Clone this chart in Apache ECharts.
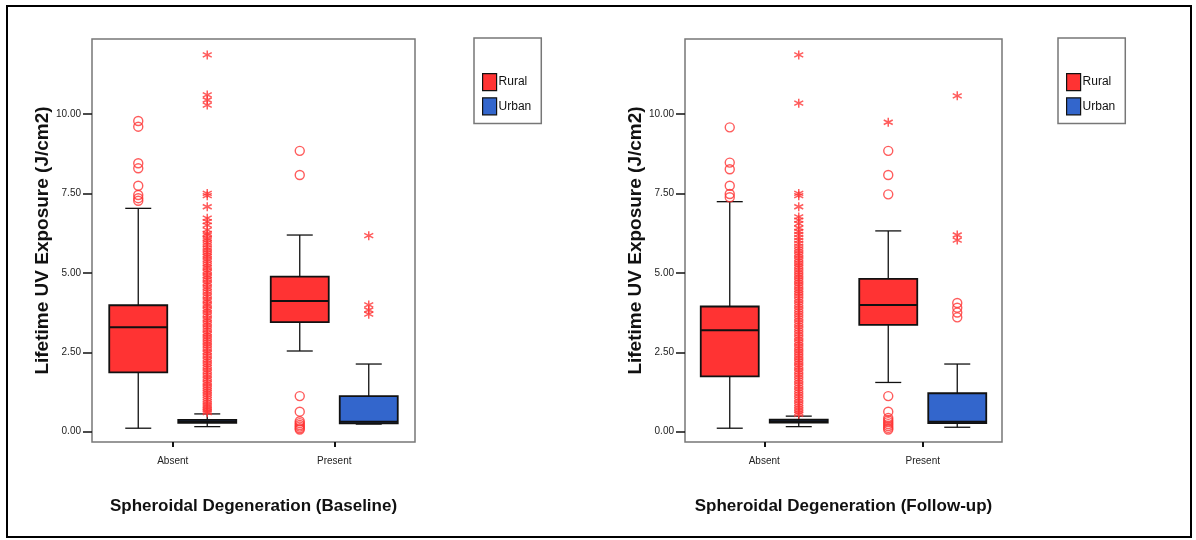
<!DOCTYPE html>
<html><head><meta charset="utf-8">
<script src="https://cdn.jsdelivr.net/npm/echarts@6/dist/echarts.min.js"></script>
<style>html,body{margin:0;padding:0;background:#fff}#c{width:1196px;height:540px}</style>
</head><body><div id="c"></div>
<script>
// ---- data ----
const categories = ['Absent', 'Present'];
const yTickValues = [0, 2.5, 5, 7.5, 10];
const seriesNames = ['Rural', 'Urban'];

// [category, min whisker, Q1, median, Q3, max whisker]
const baseRuralBox = [[0, 0.11, 1.87, 3.29, 3.98, 7.03], [1, 2.54, 3.45, 4.11, 4.88, 6.19]];
const baseUrbanBox = [[0, 0.16, 0.28, 0.32, 0.37, 0.56], [1, 0.24, 0.26, 0.31, 1.12, 2.13]];
const fuRuralBox = [[0, 0.11, 1.74, 3.19, 3.94, 7.24], [1, 1.55, 3.36, 3.99, 4.81, 6.32]];
const fuUrbanBox = [[0, 0.16, 0.29, 0.33, 0.38, 0.49], [1, 0.14, 0.27, 0.31, 1.21, 2.13]];

// outliers (circles = mild, stars = extreme)
const baseRuralCirclesAbsent = [9.78, 9.60, 8.45, 8.29, 7.74, 7.45, 7.35, 7.27];
const baseRuralCirclesPresent = [8.84, 8.08, 1.12, 0.63, 0.33, 0.27, 0.21, 0.16, 0.11, 0.07];
const baseUrbanStarsAbsent = [11.86, 10.60, 10.44, 10.28, 7.50, 7.43, 7.08, 6.72, 6.61, 6.50, 6.35, 6.24, 6.19, 6.09, 6.03, 5.95, 5.88, 5.79,
  5.72, 5.64, 5.57, 5.51, 5.43, 5.37, 5.29, 5.22, 5.16, 5.07, 5.01, 4.92, 4.86, 4.79, 4.70, 4.64, 4.55, 4.49, 4.41, 4.33, 4.26, 4.17, 4.11,
  4.02, 3.96, 3.87, 3.81, 3.73, 3.66, 3.57, 3.51, 3.43, 3.36, 3.28, 3.21, 3.12, 3.06, 2.98, 2.91, 2.83, 2.76, 2.69, 2.61, 2.53, 2.47, 2.39,
  2.31, 2.24, 2.16, 2.09, 2.02, 1.94, 1.87, 1.79, 1.72, 1.65, 1.57, 1.51, 1.43, 1.36, 1.29, 1.22, 1.15, 1.08, 1.01, 0.94, 0.87, 0.81, 0.75,
  0.69, 0.64, 0.60];
const baseUrbanStarsPresent = [6.17, 3.99, 3.83, 3.70];

const fuRuralCirclesAbsent = [9.58, 8.47, 8.26, 7.74, 7.48, 7.38];
const fuRuralCirclesPresent = [8.84, 8.08, 7.47, 1.12, 0.63, 0.43, 0.36, 0.30, 0.24, 0.18, 0.12, 0.07];
const fuRuralStarsPresent = [9.74];
const fuUrbanStarsAbsent = [11.86, 10.34, 7.50, 7.43, 7.08, 6.76, 6.66, 6.55, 6.41, 6.30, 6.21, 6.11, 6.02, 5.93, 5.84,
  5.76, 5.69, 5.61, 5.54, 5.46, 5.39, 5.31, 5.24, 5.17, 5.09, 5.02, 4.94, 4.87, 4.79, 4.72, 4.64, 4.57, 4.49, 4.42, 4.35, 4.27, 4.19,
  4.12, 4.04, 3.97, 3.89, 3.82, 3.74, 3.67, 3.59, 3.52, 3.44, 3.37, 3.29, 3.22, 3.14, 3.07, 2.99, 2.92, 2.84, 2.77, 2.69, 2.62, 2.54,
  2.47, 2.39, 2.32, 2.24, 2.17, 2.09, 2.02, 1.94, 1.87, 1.79, 1.72, 1.64, 1.57, 1.49, 1.42, 1.34, 1.27, 1.19, 1.12, 1.04, 0.97, 0.89,
  0.82, 0.75, 0.68, 0.61, 0.55];
const fuUrbanStarsPresent = [10.57, 6.19, 6.03];
const fuUrbanCirclesPresent = [4.05, 3.90, 3.75, 3.60];

// ---- styling ----
const RED = '#ff3333', BLUE = '#3366cc', OUT = '#ff3333';
const OFF = 34.5, HALF = 29, CAP = 13;
const SMALL = "'Liberation Sans',Arial,sans-serif";
const BOLD = "'Liberation Sans',Arial,sans-serif";
const STAR = 'path://M0,-5L0,5M-4.33,-2.5L4.33,2.5M-4.33,2.5L4.33,-2.5';

function pts(cat, arr) { return arr.map(v => [cat, v]); }

function boxRenderer(offset, fill) {
  return function (params, api) {
    const c = api.value(0);
    const x = api.coord([c, 0])[0] + offset;
    const y = v => api.coord([c, v])[1];
    const lo = y(api.value(1)), q1 = y(api.value(2)), md = y(api.value(3)), q3 = y(api.value(4)), hi = y(api.value(5));
    const ln = {stroke: '#111', lineWidth: 1.3};
    return {type: 'group', children: [
      {type: 'line', shape: {x1: x, y1: hi, x2: x, y2: q3}, style: ln},
      {type: 'line', shape: {x1: x, y1: q1, x2: x, y2: lo}, style: ln},
      {type: 'line', shape: {x1: x - CAP, y1: hi, x2: x + CAP, y2: hi}, style: ln},
      {type: 'line', shape: {x1: x - CAP, y1: lo, x2: x + CAP, y2: lo}, style: ln},
      {type: 'rect', shape: {x: x - HALF, y: q3, width: 2 * HALF, height: q1 - q3}, style: {fill: fill, stroke: '#111', lineWidth: 1.8}},
      {type: 'line', shape: {x1: x - HALF, y1: md, x2: x + HALF, y2: md}, style: {stroke: '#111', lineWidth: 2}}
    ]};
  };
}

function boxSeries(name, idx, data, offset, fill) {
  return {type: 'custom', name: name, xAxisIndex: idx, yAxisIndex: idx, data: data,
    itemStyle: {color: fill}, renderItem: boxRenderer(offset, fill),
    encode: {x: 0, y: [1, 2, 3, 4, 5]}, z: 2, silent: true};
}
function circleSeries(idx, data, offset) {
  return {type: 'scatter', xAxisIndex: idx, yAxisIndex: idx, data: data, symbol: 'circle', symbolSize: 9,
    symbolOffset: [offset, 0], itemStyle: {color: 'none', borderColor: OUT, borderWidth: 1.4}, z: 3, silent: true};
}
function starSeries(idx, data, offset) {
  return {type: 'scatter', xAxisIndex: idx, yAxisIndex: idx, data: data, symbol: STAR, symbolSize: 9,
    symbolOffset: [offset, 0], itemStyle: {color: 'none', borderColor: OUT, borderWidth: 1.5}, z: 3, silent: true};
}

const grids = [
  {left: 92, top: 39, width: 323, height: 403},
  {left: 685, top: 39, width: 317, height: 403}
];
const xTitles = ['Spheroidal Degeneration (Baseline)', 'Spheroidal Degeneration (Follow-up)'];

function xAxis(i) {
  return {type: 'category', gridIndex: i, data: categories, boundaryGap: true,
    axisLine: {show: false, onZero: false},
    axisTick: {show: true, alignWithLabel: true, length: 5, lineStyle: {color: '#111', width: 2}},
    axisLabel: {color: '#222', fontFamily: SMALL, fontSize: 10, margin: 14},
    splitLine: {show: false},
    name: xTitles[i], nameLocation: 'middle', nameGap: 56,
    nameTextStyle: {fontFamily: BOLD, fontWeight: 'bold', fontSize: 17, color: '#111'}};
}
function yAxis(i) {
  return {type: 'value', gridIndex: i, min: -0.324, max: 12.36,
    axisLine: {show: false}, splitLine: {show: false},
    axisTick: {show: true, length: 9, customValues: yTickValues, lineStyle: {color: '#111', width: 1.5}},
    axisLabel: {customValues: yTickValues, formatter: v => v.toFixed(2), color: '#222', fontFamily: SMALL, fontSize: 10, margin: 11},
    name: 'Lifetime UV Exposure (J/cm2)', nameLocation: 'middle', nameGap: 37, nameRotate: 90,
    nameTextStyle: {fontFamily: BOLD, fontWeight: 'bold', fontSize: 19, color: '#111'}};
}
function legend(left) {
  return {left: left, top: 38, orient: 'vertical', selectedMode: false,
    data: seriesNames.map(n => ({name: n, icon: 'rect'})),
    padding: [35, 10, 8, 8], itemWidth: 14, itemHeight: 17, itemGap: 6,
    borderColor: '#777', borderWidth: 1.5, borderRadius: 0,
    itemStyle: {borderColor: '#111', borderWidth: 1.2},
    textStyle: {fontFamily: SMALL, fontSize: 12, color: '#111', padding: [0, 0, 0, -3]}};
}

const chart = echarts.init(document.getElementById('c'), null, {renderer: 'canvas'});
chart.setOption({
  animation: false,
  backgroundColor: '#fff',
  graphic: [{type: 'rect', shape: {x: 7, y: 6, width: 1184, height: 531}, style: {fill: 'none', stroke: '#000', lineWidth: 2}, z: -1}],
  grid: grids.map(g => Object.assign({show: true, borderColor: '#777', borderWidth: 1.5, backgroundColor: 'transparent'}, g)),
  xAxis: [xAxis(0), xAxis(1)],
  yAxis: [yAxis(0), yAxis(1)],
  legend: [legend(474), legend(1058)],
  series: [
    boxSeries('Rural', 0, baseRuralBox, -OFF, RED),
    boxSeries('Urban', 0, baseUrbanBox, OFF, BLUE),
    circleSeries(0, pts(0, baseRuralCirclesAbsent).concat(pts(1, baseRuralCirclesPresent)), -OFF),
    starSeries(0, pts(0, baseUrbanStarsAbsent).concat(pts(1, baseUrbanStarsPresent)), OFF),
    boxSeries('Rural', 1, fuRuralBox, -OFF, RED),
    boxSeries('Urban', 1, fuUrbanBox, OFF, BLUE),
    circleSeries(1, pts(0, fuRuralCirclesAbsent).concat(pts(1, fuRuralCirclesPresent)), -OFF),
    starSeries(1, pts(1, fuRuralStarsPresent), -OFF),
    starSeries(1, pts(0, fuUrbanStarsAbsent).concat(pts(1, fuUrbanStarsPresent)), OFF),
    circleSeries(1, pts(1, fuUrbanCirclesPresent), OFF)
  ]
});
</script>
</body></html>
